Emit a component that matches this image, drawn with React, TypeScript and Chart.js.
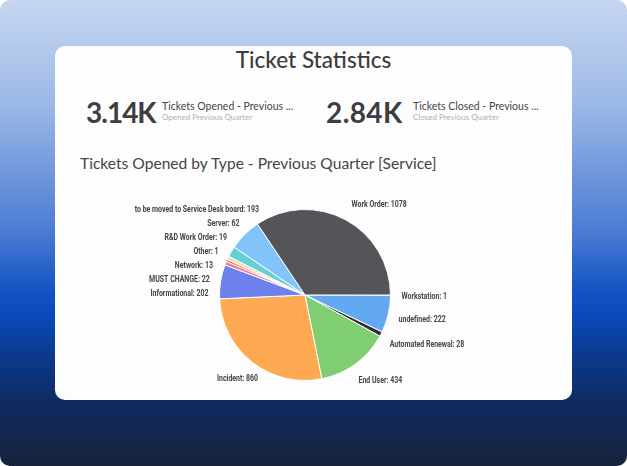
import { useEffect, useRef } from "react";
import { Chart, ArcElement, PieController, Tooltip } from "chart.js";

Chart.register(ArcElement, PieController, Tooltip);

const categories = [
  "Workstation",
  "undefined",
  "Automated Renewal",
  "End User",
  "Incident",
  "Informational",
  "MUST CHANGE",
  "Network",
  "Other",
  "R&D Work Order",
  "Server",
  "to be moved to Service Desk board",
  "Work Order",
];
const ticketCounts = [1, 222, 28, 434, 860, 202, 22, 13, 1, 19, 62, 193, 1078];
const sliceColors = [
  "#c9d3dc",
  "#62a9f1",
  "#2e3236",
  "#7fcf72",
  "#fdaa52",
  "#6c80ee",
  "#f27c9b",
  "#ee5a50",
  "#f9a24a",
  "#f7d9a6",
  "#64d0d2",
  "#82c4f9",
  "#555559",
];

const kpiValues = ["3.14K", "2.84K"];
const kpiTitles = ["Tickets Opened - Previous ...", "Tickets Closed - Previous ..."];
const kpiSubtitles = ["Opened Previous Quarter", "Closed Previous Quarter"];

// labels outside the pie, pushed apart so they don't overlap
const outsideLabels = {
  id: "outsideLabels",
  afterDatasetsDraw(chart: any) {
    const ctx = chart.ctx;
    const meta = chart.getDatasetMeta(0);
    const gap = 14;
    const items = meta.data.map((arc: any, i: number) => {
      const p = arc.getProps(["x", "y", "startAngle", "endAngle", "outerRadius"], true);
      const mid = (p.startAngle + p.endAngle) / 2;
      return {
        i,
        right: Math.cos(mid) >= -0.001,
        y: p.y + (p.outerRadius + 19) * Math.sin(mid),
        cx: p.x,
        cy: p.y,
        r: p.outerRadius,
      };
    });

    const spread = (list: any[]) => {
      list.sort((a, b) => a.y - b.y);
      const clusters: any[] = [];
      for (const it of list) {
        clusters.push({ items: [it], sum: it.y, top: it.y });
        while (clusters.length > 1) {
          const b = clusters[clusters.length - 1];
          const a = clusters[clusters.length - 2];
          if (a.top + a.items.length * gap <= b.top) break;
          clusters.pop();
          a.items.push(...b.items);
          a.sum += b.sum;
          a.top = a.sum / a.items.length - ((a.items.length - 1) * gap) / 2;
        }
      }
      clusters.forEach((c) => c.items.forEach((it: any, k: number) => (it.y = c.top + k * gap + 2)));
    };
    spread(items.filter((it: any) => it.right));
    spread(items.filter((it: any) => !it.right));

    const squeeze = 0.82;
    ctx.save();
    ctx.font = "bold 8.5px Roboto";
    ctx.fillStyle = "#454545";
    ctx.textBaseline = "middle";
    items.forEach((it: any) => {
      const dy = it.y - it.cy;
      const d = it.r + 11 + (it.right ? 5 * Math.min(1, (dy * dy) / (it.r * it.r)) : 0);
      const dx = Math.sqrt(Math.max(0, d * d - dy * dy));
      const text = categories[it.i] + ": " + ticketCounts[it.i];
      const x = it.right ? it.cx + dx : it.cx - dx;
      ctx.save();
      ctx.translate(x, it.y);
      ctx.scale(squeeze, 1);
      ctx.textAlign = it.right ? "left" : "right";
      ctx.fillText(text, 0, 0);
      ctx.restore();
    });
    ctx.restore();
  },
};

function TicketPie() {
  const canvasRef = useRef<HTMLCanvasElement | null>(null);

  useEffect(() => {
    if (!canvasRef.current) return;
    const chart = new Chart(canvasRef.current, {
      type: "pie",
      data: {
        labels: categories,
        datasets: [
          {
            data: ticketCounts,
            backgroundColor: sliceColors,
            borderColor: "#ffffff",
            borderWidth: 1,
          },
        ],
      },
      options: {
        animation: false,
        responsive: false,
        rotation: 90,
        layout: { padding: { top: 19, bottom: 19 } },
        plugins: { legend: { display: false }, tooltip: { enabled: false } },
      },
      plugins: [outsideLabels],
    });
    return () => chart.destroy();
  }, []);

  return (
    <canvas
      ref={canvasRef}
      width={420}
      height={210}
      style={{ position: "absolute", left: 40, top: 144, width: 420, height: 210 }}
    />
  );
}

export default function App() {
  return (
    <div
      style={{
        position: "fixed",
        left: 0,
        top: 0,
        width: 627,
        height: 466,
        background: "#ffffff",
      }}
    >
      <div
        style={{
          position: "absolute",
          inset: 0,
          borderRadius: 10,
          background:
            "linear-gradient(180deg, #c7d7f1 0%, #9db9e7 22%, #6e95db 38%, #4a7bd2 50%, #1454c4 62%, #0a4bbd 67%, #0a3a8e 76%, #0f2b62 86%, #17223c 100%)",
        }}
      />
      <div
        style={{
          position: "absolute",
          left: 55,
          top: 46,
          width: 517,
          height: 354,
          borderRadius: 10,
          background: "#fdfdfe",
          fontFamily: "Lato, 'Open Sans', sans-serif",
        }}
      >
        <div
          style={{
            position: "absolute",
            left: 0,
            top: 0,
            width: 517,
            textAlign: "center",
            fontSize: 22.5,
            fontWeight: 500,
            color: "#3b3b3d",
            lineHeight: "28px",
          }}
        >
          Ticket Statistics
        </div>
        {kpiValues.map((v, i) => (
          <div key={v} style={{ position: "absolute", left: i === 0 ? 31 : 271, top: 46, whiteSpace: "nowrap" }}>
            <span
              style={{
                position: "absolute",
                left: 0,
                top: 3,
                fontSize: 28,
                fontWeight: 700,
                color: "#3e3e42",
                lineHeight: "34px",
                letterSpacing: i === 0 ? -1 : 0.4,
              }}
            >
              {v}
            </span>
            <span
              style={{
                position: "absolute",
                left: i === 0 ? 76 : 87,
                top: 8,
                fontSize: 10.5,
                color: "#454547",
                lineHeight: "12px",
              }}
            >
              {kpiTitles[i]}
            </span>
            <span
              style={{
                position: "absolute",
                left: i === 0 ? 76 : 87,
                top: 20,
                fontSize: 8,
                color: "#b0b0b4",
                lineHeight: "10px",
              }}
            >
              {kpiSubtitles[i]}
            </span>
          </div>
        ))}
        <div
          style={{
            position: "absolute",
            left: 25,
            top: 106,
            fontSize: 15.6,
            fontWeight: 400,
            color: "#454547",
            whiteSpace: "nowrap",
            lineHeight: "22px",
          }}
        >
          Tickets Opened by Type - Previous Quarter [Service]
        </div>
        <TicketPie />
      </div>
    </div>
  );
}
